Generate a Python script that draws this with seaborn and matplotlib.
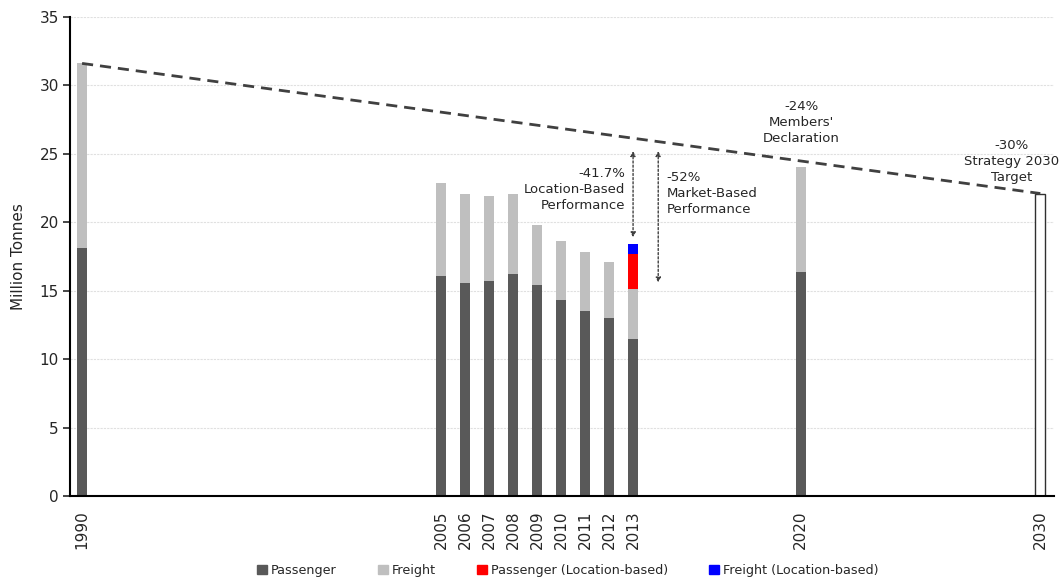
import numpy as np
import pandas as pd
import matplotlib
matplotlib.use("Agg")
import matplotlib.pyplot as plt
import matplotlib.patches as mpatches
import seaborn as sns

# values (million tonnes)
years = [1990, 2005, 2006, 2007, 2008, 2009, 2010, 2011, 2012, 2013, 2020]
passenger = [18.1, 16.1, 15.6, 15.7, 16.2, 15.4, 14.3, 13.5, 13.0, 11.5, 16.4]
freight = [13.5, 6.8, 6.5, 6.2, 5.9, 4.4, 4.3, 4.3, 4.1, 3.6, 7.6]
loc_year = [2013]
passenger_loc = [2.6]
freight_loc = [0.7]
target_year = [2030]
target_value = [22.1]
tick_years = years + target_year

df = pd.DataFrame({"year": years, "passenger": passenger, "freight": freight})
df["total"] = df["passenger"] + df["freight"]
base_2013 = df.loc[df["year"] == 2013, "total"].values[0]
loc = pd.DataFrame({"year": loc_year})
loc["red_top"] = base_2013 + np.array(passenger_loc)
loc["blue_top"] = loc["red_top"] + np.array(freight_loc)

c_pass = "#595959"
c_freight = "#bfbfbf"
c_red = "#ff0000"
c_blue = "#0000ff"
bw = 0.42

sns.set_style("white")
plt.rcParams["font.family"] = ["DejaVu Sans"]

fig = plt.figure(figsize=(10.62, 5.81), dpi=100)
ax = fig.add_axes([0.066, 0.146, 0.926, 0.825])

common = dict(native_scale=True, width=bw, saturation=1, errorbar=None, linewidth=0, ax=ax)
# layered bars: tallest first so each lower segment sits on top
sns.barplot(data=loc, x="year", y="blue_top", color=c_blue, **common)
sns.barplot(data=loc, x="year", y="red_top", color=c_red, **common)
sns.barplot(data=df, x="year", y="total", color=c_freight, **common)
sns.barplot(data=df, x="year", y="passenger", color=c_pass, **common)
tgt = pd.DataFrame({"year": target_year, "value": target_value})
sns.barplot(data=tgt, x="year", y="value", native_scale=True, width=bw, saturation=1,
            errorbar=None, color="white", edgecolor="#303030", linewidth=1.0, ax=ax)

# trajectory line from 1990 to the 2030 target
ax.plot([years[0], target_year[0]], [df["total"].iloc[0], target_value[0]],
        linestyle=(0, (4, 2.5)), color="#404040", linewidth=2, zorder=3)

# dotted double arrows
arrow = dict(arrowstyle="<|-|>", linestyle=(0, (1.5, 1.5)), color="#404040",
             linewidth=1.0, mutation_scale=7, shrinkA=0, shrinkB=0)
ax.annotate("", xy=(2013.0, 18.9), xytext=(2013.0, 25.2), arrowprops=arrow)
ax.annotate("", xy=(2014.05, 15.6), xytext=(2014.05, 25.2), arrowprops=arrow)

tkw = dict(fontsize=9.5, color="#262626", linespacing=1.3, va="center")
ax.text(2012.66, 22.4, "-41.7%\nLocation-Based\nPerformance", ha="right", multialignment="right", **tkw)
ax.text(2014.4, 22.1, "-52%\nMarket-Based\nPerformance", ha="left", multialignment="left", **tkw)
ax.text(2020.02, 27.27, "-24%\nMembers'\nDeclaration", ha="center", multialignment="center", **tkw)
ax.text(2028.8, 24.42, "-30%\nStrategy 2030\nTarget", ha="center", multialignment="center", **tkw)

ax.set_xlim(1989.5, 2030.55)
ax.set_ylim(0, 35)
ax.set_yticks(range(0, 36, 5))
ax.set_xticks(tick_years)
ax.set_xticklabels([str(y) for y in tick_years], rotation=90, fontsize=11)
ax.tick_params(axis="x", length=0, pad=10)
ax.tick_params(axis="y", length=5, width=1.2, direction="out", left=True, labelsize=11, pad=3)
ax.set_xlabel("")
ax.set_ylabel("Million Tonnes", fontsize=11, labelpad=10)
ax.yaxis.grid(True, color="#e0e0e0", linestyle=(0, (2, 1)), linewidth=0.8)
ax.set_axisbelow(True)
for side in ["top", "right"]:
    ax.spines[side].set_visible(False)
for side in ["left", "bottom"]:
    ax.spines[side].set_color("black")
    ax.spines[side].set_linewidth(1.5)

handles = [mpatches.Patch(color=c_pass, label="Passenger"),
           mpatches.Patch(color=c_freight, label="Freight"),
           mpatches.Patch(color=c_red, label="Passenger (Location-based)"),
           mpatches.Patch(color=c_blue, label="Freight (Location-based)")]
ax.legend(handles=handles, loc="center", bbox_to_anchor=(0.506, -0.155), ncol=4,
          frameon=False, fontsize=9.2, handlelength=0.8, handleheight=0.8,
          handletextpad=0.3, columnspacing=3.2)

fig.savefig("out.png", dpi=100)
